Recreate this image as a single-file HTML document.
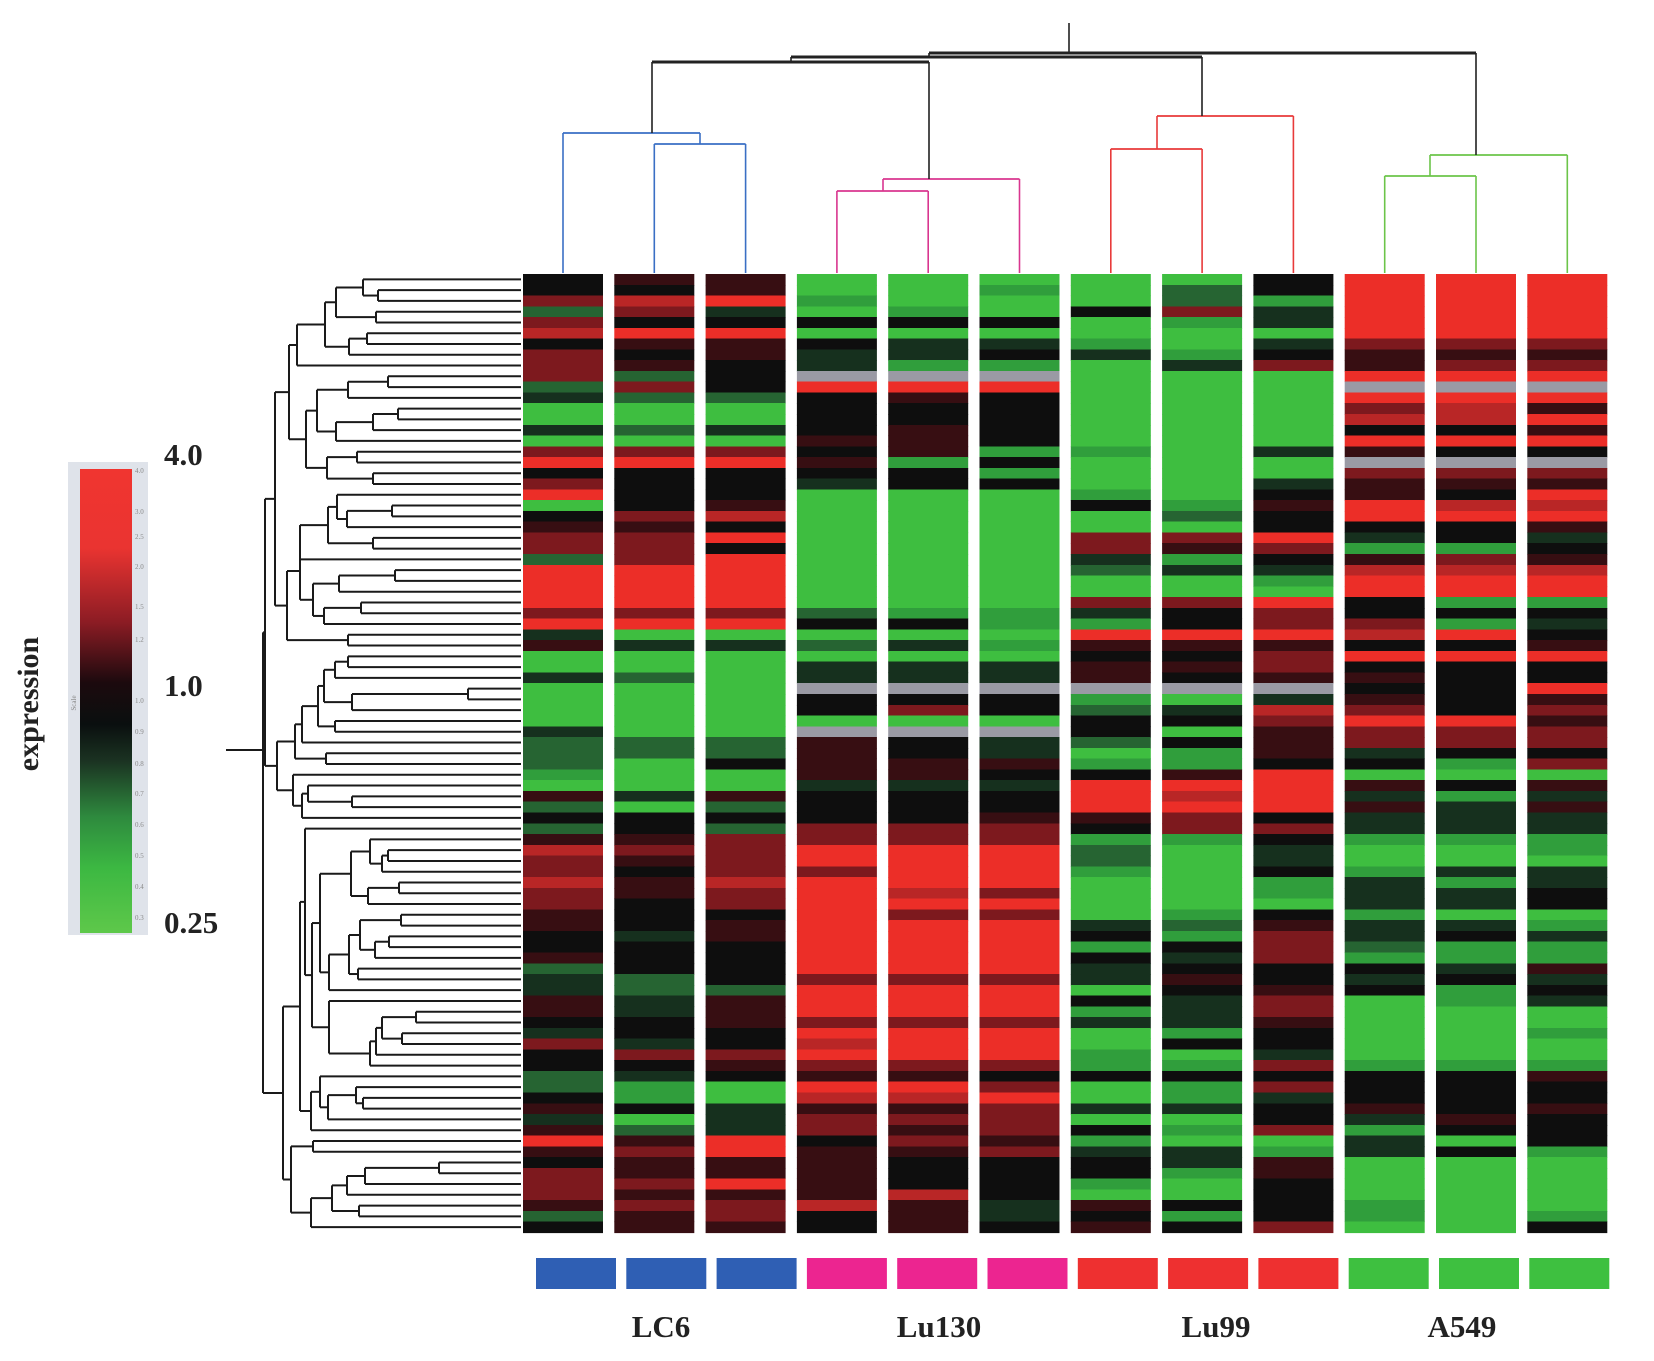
<!DOCTYPE html>
<html><head><meta charset="utf-8"><style>
html,body{margin:0;padding:0;background:#fff;}
svg{display:block;}
text{font-family:"Liberation Serif",serif;}
</style></head><body>
<svg id="chart" width="1654" height="1361" viewBox="0 0 1654 1361" xmlns="http://www.w3.org/2000/svg">
<defs>
<linearGradient id="legGrad" x1="0" y1="0" x2="0" y2="1">
<stop offset="0" stop-color="#f03530"/><stop offset="0.17" stop-color="#ea3431"/>
<stop offset="0.33" stop-color="#8c1c24"/><stop offset="0.46" stop-color="#1c0a0e"/>
<stop offset="0.55" stop-color="#0a0f0f"/><stop offset="0.63" stop-color="#1b3322"/>
<stop offset="0.75" stop-color="#2e8a3e"/><stop offset="0.86" stop-color="#3cb842"/>
<stop offset="1" stop-color="#5ec84a"/>
</linearGradient>
</defs>
<g id="legend">
<rect x="68" y="462" width="80" height="473" fill="#dfe3ea"/>
<rect x="80" y="469" width="52" height="464" fill="url(#legGrad)"/>
<text x="76" y="703" font-size="7" fill="#888" transform="rotate(-90 76 703)" text-anchor="middle">Scale</text>
<text x="164" y="465" font-size="31" font-weight="bold" fill="#222">4.0</text>
<text x="164" y="696" font-size="31" font-weight="bold" fill="#222">1.0</text>
<text x="164" y="933" font-size="31" font-weight="bold" fill="#222">0.25</text>
<text x="38" y="704" font-size="30" font-weight="bold" fill="#222" text-anchor="middle" transform="rotate(-90 38 704)">expression</text>
</g>
<g id="legTicks"></g>
<g id="heat"></g>
<g id="leftDendro"></g>
<g id="topDendro"></g>
<g id="groupBars"></g>
<g id="groupLabels"></g>
</svg>
<script>
// ---- data ----
const samples = ["LC6-1","LC6-2","LC6-3","Lu130-1","Lu130-2","Lu130-3","Lu99-1","Lu99-2","Lu99-3","A549-1","A549-2","A549-3"];
const groups = ["LC6","Lu130","Lu99","A549"];
const groupColors = ["#2f5fb4","#ec2590","#ee3030","#3ec040"];
const legendTickLabels = ["4.0","3.0","2.5","2.0","1.5","1.2","1.0","0.9","0.8","0.7","0.6","0.5","0.4","0.3"];
const legendTickY = [470,511,536,566,606,639,700,731,763,793,824,855,886,917];
// expression level codes per row (89 genes), one string per sample
const codeValues = {G:0.25,h:0.4,g:0.55,d:0.75,k:1.0,s:1.4,r:2.0,m:2.8,R:4.0,x:null};
const colLC6_1   = "kkrgrmkrrrgdGGdGrRkrRGksrrgRRRRrRdsGGdGGGGdg"+"gghGsgkgsmrrmrrsskksgddsskdrkkggksdsRskrrrsg";
const colLC6_2   = "skmrkRsksgrgGGgGrRkkkkrsrrrRRRRrRGdGGgGGGGGg"+"gGGGdGkksrsksskkkdkkkggddkkdrkdhhkGgsrssrsrss";
const colLC6_3   = "ssRdkRsskkkgGGdGrRkkksmkRkRRRRRrRGdGGGGGGGGg"+"gkGGsgkgrrrrmrrksskkkkgssskkrskGGdddRRssRsrrs";
const colLu130_1 = "GGhGkGkddxRkkkkskskdGGGGGGGGGGGgkGgGddxkkGxs"+"sssdkkkrrRRrRRRRRRRRRrRRRrRmRrsRmsrrksssssmkkg".slice(0,45);
const colLu130_2 = "GGGhkGddhxRskkssshkkGGGGGGGGGGGhkGdGddxkrGxk"+"kssdkkkrrRRRRmRrRRRRRrRRRrRRRrsRmsrsrskkkmsss";
const colLu130_3 = "GhGGkGdkhxRkkkkkhkhkGGGGGGGGGGGhhGhGddxkkGxd"+"dskdkksrrRRRRrRrRRRRRrRRRrRRRrkrRrrrsrkkkkddk";
const colLu99_1  = "GGGkGGhdGGGGGGGGhGGGhkGGrrdgGGrdhRskssxhgkkg"+"GhkRRRskhgghGGGGdkhkddGkhdGGhhkGGdGkhdkkhGsks";
const colLu99_2  = "GggrhGGhdGGGGGGGGGGGGhgGrshdGGrkkRskskxGdkGk"+"hhsRmRrrhGGGGGGhghkdkskdddhkGhkhhdGhGddhGGkhk";
const colLu99_3  = "kkhddGdkrGGGGGGGdGGdkskkRrkdhGRrrRsrrsxdmrss"+"skRRRRkrkddkhhGksrrrkksrrskkdrkrdkkrGhsskkkkr";
const colA549_1  = "RRRRRRrssRxRrmkRsxrssRRkdhsmRRkkrmkRksksrRrr"+"dkGsdsddhGGhdddhddghkdkGGGGGGhkkksdhddGGGGhhG";
const colA549_2  = "RRRRRRrsrRxRmmkRkxrskmRkkhrmRRhkhRkRkkkkkRrr"+"khGkhdddhGGdhddGdkhhdkhhGGGGGhkkkkskGkGGGGGGG";
const colA549_3  = "RRRRRRrsrRxRsRsRkxrsRmRsdksmRRhkdksRkkRsrsrr"+"krGsdsddhhGddkkGhdhhsdkdGGhGGhskkskkkhGGGGGhk";
const columns = [colLC6_1,colLC6_2,colLC6_3,colLu130_1,colLu130_2,colLu130_3,colLu99_1,colLu99_2,colLu99_3,colA549_1,colA549_2,colA549_3];
// row dendrogram: [mergeX, left, right], leaves are row indices
const rowTree = [263,
 [265,
  [275,
   [289,
    [297,[325,[336,[363,0,[378,1,2]],[376,3,4]],[349,[367,5,6],7]],8],
    [306,[317,[348,[388,9,10],11],[336,[373,[398,12,13],14],15]],[327,[357,16,17],[373,18,19]]]],
   [287,[300,[300,[328,[337,20,[347,[392,21,22],23]],[373,24,25]],26],[313,[339,[395,27,28],29],[324,[361,30,31],32]]],[348,33,34]]],
  [277,
   [295,[302,[318,[324,[335,[348,35,36],37],[352,[468,38,39],40]],[335,41,42]],43],[326,44,45]],
   [293,46,[302,[308,47,[352,48,49]],50]]]],
 [283,
  [300,[305,51,[312,[320,[351,[370,52,[382,[388,53,54],55]],[368,[399,56,57],58]],[329,[349,[360,[401,59,60],[375,[389,61,62],63]],[358,64,65]],66]],[329,67,[370,[376,[382,[416,68,69],[402,70,71]],72],73]]]],
   [311,[320,74,[328,[356,75,[363,76,77]],78]],79]],
  [291,[313,80,81],[311,[332,[347,[365,[439,82,83],84],85],[359,86,87]],88]]]];
// column dendrogram: [mergeX, mergeY, color, children]
const colTree = [1069,53,"#222",[
  [929,57,"#222",[
    [791,62,"#222",[
      [652,133,"#3a6fc4",[0,[700,144,"#3a6fc4",[1,2]]]],
      [929,179,"#d9368f",[[883,191,"#d9368f",[3,4]],5]]]],
    [1202,116,"#e83a3a",[[1157,149,"#e83a3a",[6,7]],8]]]],
  [1476,155,"#6cc44a",[[1430,176,"#6cc44a",[9,10]],11]]]];

// ---- layout / scales ----
const NS="http://www.w3.org/2000/svg";
const HX0=523, HPITCH=91.3, HW=80, HY0=274, NROWS=89, HBOT=1232.5;
const RH=(HBOT-HY0)/NROWS;
const colX = i => HX0 + HPITCH*i;
const colCenter = i => colX(i) + HW/2;
const rowY = i => HY0 + RH*i;
const stopVals=[0.25,0.4,0.55,0.75,1.0,1.4,2.0,2.8,4.0];
const stopCols=[[62,190,64],[48,158,60],[38,100,50],[22,48,30],[14,14,14],[55,14,18],[125,25,30],[185,38,38],[236,46,40]];
function colorOf(v){
  if(v===null) return "#9a9aa4";
  const lv=Math.log(v);
  for(let j=0;j<stopVals.length-1;j++){
    const a=Math.log(stopVals[j]), b=Math.log(stopVals[j+1]);
    if(lv<=b){const t=Math.max(0,(lv-a)/(b-a));const c=stopCols[j].map((q,k)=>Math.round(q+(stopCols[j+1][k]-q)*t));return `rgb(${c[0]},${c[1]},${c[2]})`;}
  }
  return "rgb(236,46,40)";
}
function mk(tag,attrs,parent){const e=document.createElementNS(NS,tag);for(const k in attrs)e.setAttribute(k,attrs[k]);parent.appendChild(e);return e;}

// legend ticks
const lt=document.getElementById('legTicks');
legendTickLabels.forEach((lab,i)=>{
  const t=mk('text',{x:135,y:legendTickY[i]+3,'font-size':7,fill:'#8a8a8a','font-family':'Liberation Sans, sans-serif'},lt);
  t.textContent=lab;
  
  
});

// heatmap
const heat=document.getElementById('heat');
columns.forEach((col,ci)=>{
  const g=mk('g',{},heat);
  
  
  for(let r=0;r<NROWS;r++){
    const v=codeValues[col[r]];
    const y0=Math.round(rowY(r)*2)/2, y1=Math.round(rowY(r+1)*2)/2;
    const c=mk('rect',{x:colX(ci),y:y0,width:HW,height:(y1-y0)+0.6,fill:colorOf(v===undefined?1:v)},g);
    
    
  }
});

// row dendrogram
const ld=document.getElementById('leftDendro');


const LEAF_END=521;
function line(x1,y1,x2,y2,col,w,parent){
  const l=mk('line',{x1,y1,x2,y2,stroke:col,'stroke-width':w},parent);
  
  
}
function drawRow(n){
  if(typeof n==='number') return {x:LEAF_END,y:rowY(n)+RH/2};
  const a=drawRow(n[1]), b=drawRow(n[2]), x=n[0];
  line(x,a.y,a.x,a.y,'#1a1a1a',2,ld);
  line(x,b.y,b.x,b.y,'#1a1a1a',2,ld);
  line(x,a.y,x,b.y,'#1a1a1a',2,ld);
  return {x,y:(a.y+b.y)/2};
}
const rootR=drawRow(rowTree);
line(226,750,rootR.x,750,'#1a1a1a',2,ld);

// column dendrogram
const td=document.getElementById('topDendro');


const LEAF_TOP=273;
function drawCol(n){
  if(typeof n==='number') return {x:colCenter(n),y:LEAF_TOP};
  const [x,y,c,kids]=n;
  const pts=kids.map(drawCol);
  pts.forEach(p=>line(p.x,p.y,p.x,y,c,1.6,td));
  line(Math.min(...pts.map(p=>p.x)),y,Math.max(...pts.map(p=>p.x)),y,c,c==="#222"?3:1.8,td);
  return {x,y};
}
const rootC=drawCol(colTree);
line(rootC.x,rootC.y,rootC.x,23,'#222',1.6,td);

// group bars and labels
const gb=document.getElementById('groupBars');
samples.forEach((s,i)=>{
  const r=mk('rect',{x:536+90.3*i,y:1258,width:80,height:31,fill:groupColors[Math.floor(i/3)]},gb);
  
  
});
const gl=document.getElementById('groupLabels');
const labelX=[661,939,1216,1462];
groups.forEach((gname,i)=>{
  const t=mk('text',{x:labelX[i],y:1337,'font-size':31,'font-weight':'bold',fill:'#222','text-anchor':'middle'},gl);
  t.textContent=gname;
  
  
});
</script>
</body></html>
